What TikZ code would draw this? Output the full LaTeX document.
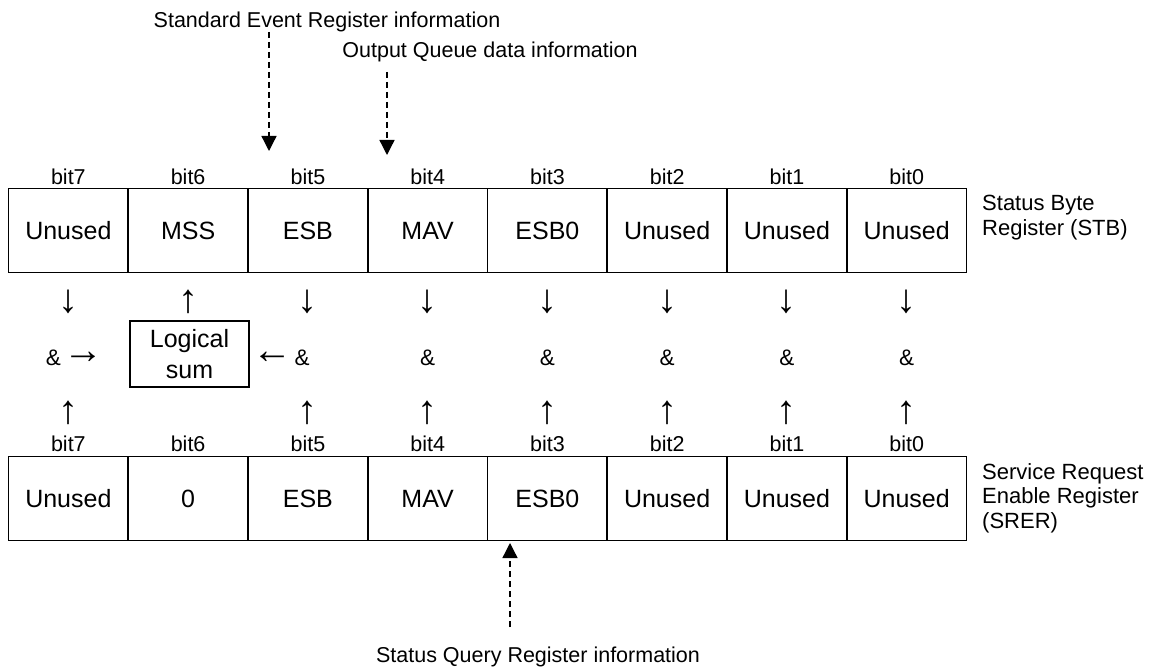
\documentclass[tikz,border=0pt]{standalone}
\usepackage{fontspec}
\setmainfont{Liberation Sans}
\usetikzlibrary{arrows.meta}
\tikzset{
  cell/.style={draw, line width=1.6pt, minimum width=119.75pt, minimum height=84pt, inner sep=0pt, font=\fontsize{25}{29}\selectfont},
  bitlbl/.style={inner sep=0pt, font=\fontsize{21.5}{24}\selectfont},
  sym/.style={inner sep=0pt, font=\fontsize{22.5}{24}\selectfont},
  arw/.style={inner sep=0pt, font=\fontsize{40}{42}\selectfont},
  desc/.style={inner sep=0pt, font=\fontsize{21.5}{24}\selectfont},
  reglbl/.style={inner sep=0pt, anchor=north west, align=left, font=\fontsize{22}{24.5}\selectfont},
  sumbox/.style={draw, line width=1.6pt, minimum width=119pt, minimum height=66pt, inner sep=0pt, align=center, font=\fontsize{25}{31}\selectfont},
  infoarrow/.style={line width=1.3pt, dash pattern=on 6pt off 4pt, -{Triangle[width=15pt,length=15pt]}}
}
\begin{document}
\begin{tikzpicture}[x=1pt,y=-1pt]
\useasboundingbox (0,0) rectangle (1172,671);
% registers
\foreach \i/\b/\t/\s in {0/7/Unused/Unused,1/6/MSS/0,2/5/ESB/ESB,3/4/MAV/MAV,4/3/ESB0/ESB0,5/2/Unused/Unused,6/1/Unused/Unused,7/0/Unused/Unused}{
  \pgfmathsetmacro{\cx}{8.5+119.75*(\i+0.5)}
  \node[cell] (t\b) at (\cx,230.5) {\t};
  \node[cell] (s\b) at (\cx,498.5) {\s};
  \node[bitlbl] (tl\b) at (\cx,177) {bit\b};
  \node[bitlbl] (sl\b) at (\cx,444) {bit\b};
}
% down / up arrows rows
\foreach \i/\b in {0/7,2/5,3/4,4/3,5/2,6/1,7/0}{
  \pgfmathsetmacro{\cx}{8.5+119.75*(\i+0.5)}
  \node[arw] (d\b) at (\cx,302) {↓};
  \node[arw] (u\b) at (\cx,413) {↑};
}
\node[arw] (d6) at (188.1,302) {↑};
% and row
\node[sym] (and7) at (53.5,358) {\&};
\node[arw] (r7) at (83,358) {→};
\node[sumbox] (sum) at (189.5,354) {Logical\\sum};
\node[arw] (l5) at (272,358) {←};
\node[sym] (and5) at (302,358) {\&};
\foreach \i/\b in {3/4,4/3,5/2,6/1,7/0}{
  \pgfmathsetmacro{\cx}{8.5+119.75*(\i+0.5)}
  \node[sym] (and\b) at (\cx,358) {\&};
}
% register names
\node[reglbl] (stb) at (982,195) {Status Byte\\Register (STB)};
\node[reglbl] (srer) at (982,463) {Service Request\\Enable Register\\(SRER)};
% info texts and arrows
\node[desc] (sei) at (327,22) {Standard Event Register information};
\node[desc] (oqi) at (490,52) {Output Queue data information};
\node[desc] (sqi) at (538,657) {Status Query Register information};
\coordinate (a1s) at (269,32);
\coordinate (a1e) at (269,151);
\coordinate (a2s) at (387,72);
\coordinate (a2e) at (387,155);
\coordinate (a3s) at (510,627);
\coordinate (a3e) at (510,543);
\draw[infoarrow] (a1s) -- (a1e);
\draw[infoarrow] (a2s) -- (a2e);
\draw[infoarrow] (a3s) -- (a3e);
\end{tikzpicture}
\end{document}
